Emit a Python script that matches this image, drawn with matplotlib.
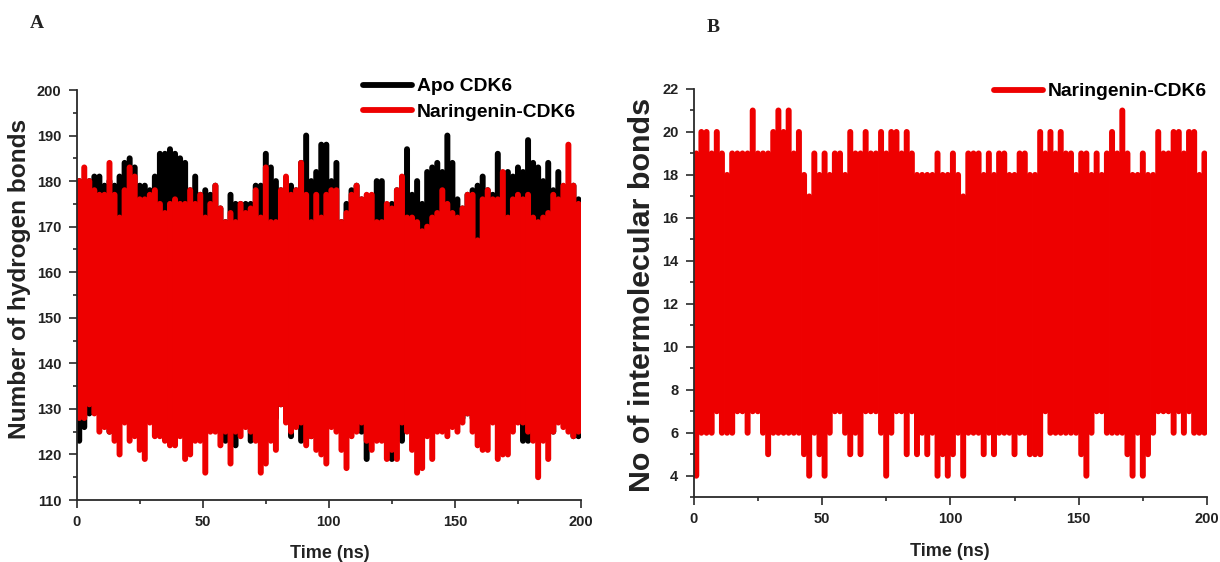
import numpy as np
import matplotlib
matplotlib.use('Agg')
import matplotlib.pyplot as plt
from matplotlib.lines import Line2D
from matplotlib.ticker import MultipleLocator

plt.rcParams['font.family'] = ['Liberation Sans', 'DejaVu Sans']

# values, one sample every 2 ns
time = np.arange(1, 200, 2)

apo_upper = [180,180,180,181,181,179,180,179,181,184,
             185,183,179,179,178,181,186,186,187,186,
             185,184,178,181,177,178,177,179,174,171,
             177,175,175,175,175,179,179,186,183,180,
             178,180,179,178,184,190,180,182,188,188,
             180,184,171,175,178,179,176,176,172,180,
             180,174,175,178,180,187,177,180,175,182,
             183,184,182,190,184,176,174,177,178,179,
             181,178,177,186,180,182,181,183,182,189,
             184,183,180,184,178,182,178,176,179,176]
apo_lower = [123,126,129,130,131,131,125,131,129,128,
             128,130,129,128,128,127,129,128,128,128,
             129,128,127,127,127,127,127,129,127,123,
             128,122,128,128,123,128,127,127,128,128,
             131,128,124,127,123,128,124,126,128,128,
             128,127,127,128,128,128,125,119,127,127,
             127,127,119,128,123,127,128,128,128,128,
             127,128,128,127,128,129,128,129,128,128,
             127,127,128,127,127,127,127,128,123,123,
             126,127,127,127,125,128,128,128,124,124]
nar_upper = [180,183,180,178,177,177,184,177,172,178,
             183,181,176,176,177,178,175,173,175,176,
             175,175,178,175,177,172,175,179,174,171,
             173,171,175,173,174,178,172,183,171,171,
             178,181,177,178,184,177,171,177,172,177,
             178,178,171,173,177,179,176,177,177,171,
             171,175,174,178,181,172,172,171,169,170,
             172,173,178,175,173,172,174,177,177,167,
             176,178,176,176,182,172,176,177,176,177,
             172,171,172,173,177,176,179,188,179,175]
nar_lower = [128,128,131,129,125,126,125,123,120,127,
             123,124,121,119,127,124,124,123,122,122,
             124,119,120,123,123,116,125,125,122,125,
             118,125,124,126,125,123,116,118,123,121,
             131,127,125,126,127,122,124,121,120,118,
             126,125,121,117,124,125,127,123,121,123,
             123,119,121,119,127,125,121,116,117,124,
             119,125,125,124,126,125,127,129,125,122,
             121,121,127,119,120,120,125,127,127,125,
             123,115,123,119,125,127,126,125,124,125]

inter_upper = [19,20,20,19,20,19,18,19,19,19,
               19,21,19,19,19,20,21,20,21,19,
               20,18,17,19,18,19,18,19,19,18,
               20,19,19,20,19,19,20,19,20,20,
               19,20,19,18,18,18,18,19,18,18,
               19,18,17,19,19,19,18,19,18,19,
               19,18,18,19,19,18,18,20,19,20,
               19,20,19,19,18,19,19,18,19,18,
               19,20,19,21,19,18,18,19,18,18,
               20,19,19,20,20,19,20,20,18,19]
inter_lower = [4,6,6,6,7,6,6,6,7,7,
               6,7,7,6,5,6,6,6,6,6,
               6,5,4,6,5,4,6,7,7,6,
               5,6,5,7,7,7,6,4,6,7,
               7,5,7,5,6,5,6,4,5,4,
               5,6,4,6,6,6,5,6,5,6,
               6,6,5,6,6,5,5,5,7,6,
               6,6,6,6,6,5,4,6,7,7,
               6,6,6,6,5,4,6,4,5,6,
               7,7,7,6,7,6,7,6,6,6]

W, H = 1220, 562
RED = '#ee0000'
DARK = '#2a2a2a'
TXT = '#222222'


def px_axes(fig, left, right, top, bottom):
    return fig.add_axes([left/W, 1-bottom/H, (right-left)/W, (bottom-top)/H])


def style_axes(ax):
    ax.spines['top'].set_visible(False)
    ax.spines['right'].set_visible(False)
    ax.spines['left'].set_linewidth(1.3)
    ax.spines['bottom'].set_linewidth(1.3)
    ax.spines['left'].set_color(DARK)
    ax.spines['bottom'].set_color(DARK)
    ax.set_xlim(0, 200)
    ax.xaxis.set_major_locator(MultipleLocator(50))
    ax.xaxis.set_minor_locator(MultipleLocator(25))
    ax.tick_params(which='major', length=6, width=1.2, color=DARK, labelsize=10.5, pad=5)
    ax.tick_params(which='minor', length=3.2, width=1.2, color=DARK)
    for lab in ax.get_xticklabels() + ax.get_yticklabels():
        lab.set_fontweight('bold')
        lab.set_color(TXT)


def proxy(color):
    return Line2D([], [], color=color, lw=4.2, solid_capstyle='round')


fig = plt.figure(figsize=(W/100, H/100), dpi=100)

# panel A
ax1 = px_axes(fig, 76.7, 581, 90, 500)
ax1.vlines(time, apo_lower, apo_upper, color='black', lw=4.3, capstyle='round', snap=False)
ax1.vlines(time, nar_lower, nar_upper, color=RED, lw=4.3, capstyle='round', snap=False)
ax1.set_ylim(110, 200)
ax1.yaxis.set_major_locator(MultipleLocator(10))
ax1.yaxis.set_minor_locator(MultipleLocator(5))
style_axes(ax1)
ax1.set_ylabel('Number of hydrogen bonds', fontsize=17.6, fontweight='bold', color=TXT)
ax1.yaxis.set_label_coords((31-76.7)/(581-76.7), (500-279)/410)
ax1.set_xlabel('Time (ns)', fontsize=13, fontweight='bold', color=TXT)
ax1.xaxis.set_label_coords((329.5-76.7)/(581-76.7), -(545.5-500)/410)
ax1.legend([proxy('black'), proxy(RED)], ['Apo CDK6', 'Naringenin-CDK6'], loc='upper left',
           bbox_to_anchor=(359/W, 1-74/H), bbox_transform=fig.transFigure,
           frameon=False, prop={'weight': 'bold', 'size': 13.9}, handlelength=2.55,
           handletextpad=0.26, labelspacing=0.4, borderpad=0.2, borderaxespad=0)

# panel B
ax2 = px_axes(fig, 693.7, 1207, 89, 497.2)
ax2.vlines(time, inter_lower, inter_upper, color=RED, lw=4.3, capstyle='round', snap=False)
ax2.set_ylim(3, 22)
ax2.yaxis.set_major_locator(MultipleLocator(2))
ax2.yaxis.set_minor_locator(MultipleLocator(1))
style_axes(ax2)
ax2.set_ylabel('No of intermolecular bonds', fontsize=21.9, fontweight='bold', color=TXT)
ax2.yaxis.set_label_coords((656-693.7)/(1207-693.7), (497.2-295)/408.2)
ax2.set_xlabel('Time (ns)', fontsize=13, fontweight='bold', color=TXT)
ax2.xaxis.set_label_coords((950-693.7)/(1207-693.7), -(543-497.2)/408.2)
ax2.legend([proxy(RED)], ['Naringenin-CDK6'], loc='upper left',
           bbox_to_anchor=(990/W, 1-79/H), bbox_transform=fig.transFigure,
           frameon=False, prop={'weight': 'bold', 'size': 13.9}, handlelength=2.55,
           handletextpad=0.26, borderpad=0.2, borderaxespad=0)

fig.text(30/W, 1-23/H, 'A', family='Liberation Serif', fontweight='bold', fontsize=14, va='center', color=TXT)
fig.text(707/W, 1-27/H, 'B', family='Liberation Serif', fontweight='bold', fontsize=14, va='center', color=TXT)

fig.savefig('out.png', dpi=100)
